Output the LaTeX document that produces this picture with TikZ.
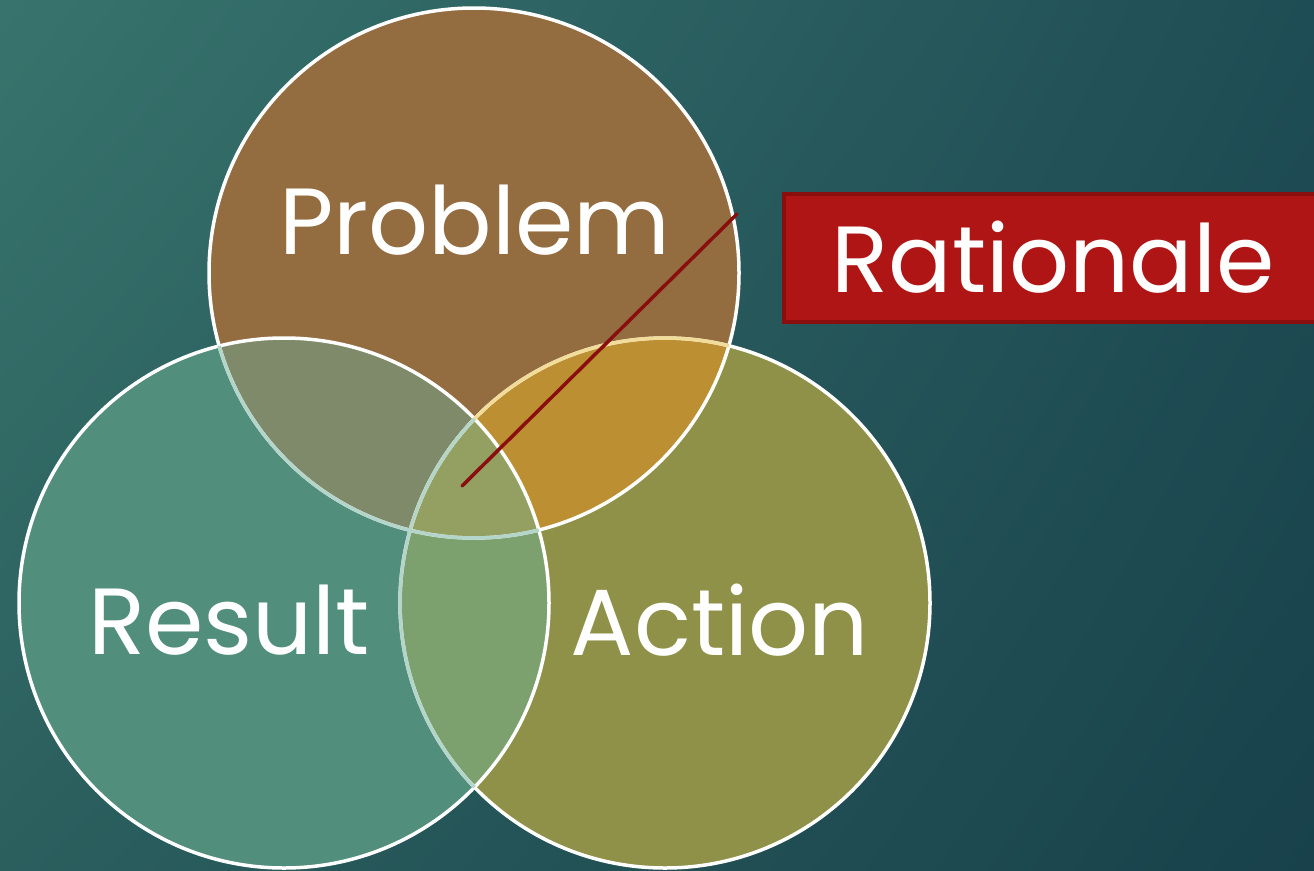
\documentclass[tikz,border=0pt]{standalone}
\usepackage{fontspec}
\setmainfont{Poppins}
\usepackage{xcolor}
\usepackage{tikz}
\usetikzlibrary{shadings}

\definecolor{bgTL}{HTML}{38746D}
\definecolor{bgTR}{HTML}{1F4D55}
\definecolor{bgBL}{HTML}{2B5F5E}
\definecolor{bgBR}{HTML}{18414B}
\definecolor{probFill}{HTML}{936C40}
\definecolor{resFill}{HTML}{528E7C}
\definecolor{actFill}{HTML}{8E9147}
\definecolor{lensPR}{HTML}{7F8A6A}
\definecolor{lensRA}{HTML}{7CA06E}
\definecolor{lensPA}{HTML}{BD8F33}
\definecolor{lensMid}{HTML}{93A062}
\definecolor{paleGold}{HTML}{F2DC9A}
\definecolor{paleTeal}{HTML}{B4D6CA}
\definecolor{ratFill}{HTML}{B01515}
\definecolor{ratLine}{HTML}{8A0E0E}

\tikzset{
  ring/.style={draw=white, line width=3.5pt},
  label/.style={text=white, font=\fontsize{94}{94}\selectfont, anchor=base, inner sep=0pt}
}

\begin{document}
\begin{tikzpicture}[x=1pt, y=-1pt]
  \useasboundingbox (0,0) rectangle (1314,870);
  \shade[upper left=bgTL, upper right=bgTR, lower left=bgBL, lower right=bgBR]
    (0,0) rectangle (1314,870);

  % Centres
  \coordinate (pc) at (474,273);
  \coordinate (rc) at (284,603);
  \coordinate (ac) at (665,603);

  % Fills
  \fill[actFill] (ac) circle (265pt);
  \fill[probFill] (pc) circle (265pt);
  \fill[resFill] (rc) circle (265pt);
  \begin{scope}
    \clip (pc) circle (265pt);
    \fill[lensPA] (ac) circle (265pt);
    \fill[lensPR] (rc) circle (265pt);
  \end{scope}
  \begin{scope}
    \clip (rc) circle (265pt);
    \fill[lensRA] (ac) circle (265pt);
    \clip (pc) circle (265pt);
    \fill[lensMid] (ac) circle (265pt);
  \end{scope}

  % Rings
  \draw[ring] (ac) circle (265pt);
  \draw[ring] (pc) circle (265pt);
  \draw[ring] (rc) circle (265pt);
  \begin{scope}
    \clip (pc) circle (265pt);
    \draw[ring, draw=paleGold] (ac) circle (265pt);
  \end{scope}
  \begin{scope}
    \clip (rc) circle (265pt);
    \draw[ring, draw=paleTeal] (ac) circle (265pt);
    \draw[ring, draw=paleTeal] (pc) circle (265pt);
  \end{scope}

  % Nodes
  \node[label] (problem) at (475,254) {Problem};
  \node[label] (result) at (229,654) {Result};
  \node[label] (action) at (720,655) {Action};
  \node[draw=ratLine, fill=ratFill, line width=3.5pt, minimum width=560pt,
        minimum height=128pt, anchor=north west] (box) at (782,192) {};
  \node[label] (rationale) at (1053,292) {Rationale};

  % Edges
  \coordinate (tip) at (737,214);
  \coordinate (hub) at (462,486);
  \draw[ratLine, line width=3.5pt, line cap=round] (tip) -- (hub);
\end{tikzpicture}
\end{document}
